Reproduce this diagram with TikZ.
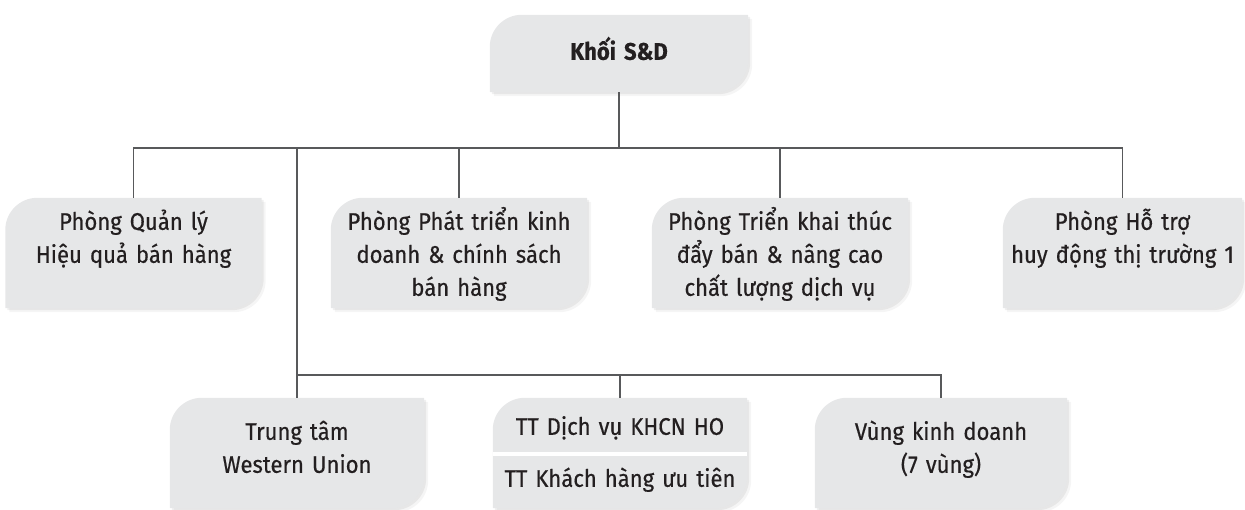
\documentclass[tikz,border=0pt]{standalone}
\usepackage{fontspec}
\setmainfont{Fira Sans}[FakeStretch=0.92,WordSpace=0.85,FakeBold=0.5]
\usepackage{tikz}
\usetikzlibrary{positioning, shadows, calc}
\definecolor{leafgray}{HTML}{E6E7E8}
\definecolor{wiregray}{HTML}{58595B}
\definecolor{inkblack}{HTML}{231F20}

\begin{document}
\begin{tikzpicture}
  [x=1pt,y=1pt,
   leafbox/.style={rectangle,inner sep=0pt,minimum width=256pt,minimum height=110pt},
   leaffill/.style={fill=leafgray,
     drop shadow={shadow xshift=4pt,shadow yshift=-4pt,opacity=0.08},
     drop shadow={shadow xshift=2pt,shadow yshift=-2pt,opacity=0.12}},
   boxtext/.style={text width=248pt,align=center,inner sep=0pt,text=inkblack,
     font=\fontsize{24}{33}\selectfont},
   wire/.style={draw=wiregray,line width=1.4pt}]
  \useasboundingbox (0,0) rectangle (1245,-510);
  % boxes
  \node (sd) at (619,-53.5) [leafbox,minimum width=258pt,minimum height=77pt] {};
  \node (qlhq) at (133.5,-253) [leafbox] {};
  \node (ptkd) at (459,-253) [leafbox] {};
  \node (tktd) at (780,-253) [leafbox] {};
  \node (htdt) at (1122.5,-253) [leafbox,minimum width=239pt] {};
  \node (wu) at (297,-453) [leafbox,minimum width=254pt] {};
  \node (tt) at (620,-453) [leafbox,minimum width=254pt] {};
  \node (vkd) at (941,-453) [leafbox,minimum width=252pt] {};
  \foreach \n in {sd,qlhq,ptkd,tktd,htdt,wu,tt,vkd}
    \fill [leaffill] (\n.south west) -- ([yshift=-32pt]\n.north west)
      arc [start angle=180,end angle=90,radius=32pt] -- (\n.north east)
      -- ([yshift=32pt]\n.south east) arc [start angle=0,end angle=-90,radius=32pt] -- cycle;
  \draw [white,line width=4pt] ([yshift=-56pt]tt.north west) -- ([yshift=-56pt]tt.north east);
  % texts
  \node (sdtext) [boxtext,anchor=base,font=\fontsize{24}{33}\selectfont\bfseries]
    at ([yshift=-45pt]sd.north) {Khối S\&D};
  \node (qlhqtext) [boxtext,anchor=base] at ([yshift=-32pt]qlhq.north) {Phòng Quản lý\\Hiệu quả bán hàng};
  \node (ptkdtext) [boxtext,anchor=base] at ([yshift=-32pt]ptkd.north) {Phòng Phát triển kinh\\doanh \& chính sách\\bán hàng};
  \node (tktdtext) [boxtext,anchor=base] at ([yshift=-32pt]tktd.north) {Phòng Triển khai thúc\\đẩy bán \& nâng cao\\chất lượng dịch vụ};
  \node (htdttext) [boxtext,anchor=base,text width=234pt] at ([yshift=-32pt]htdt.north) {Phòng Hỗ trợ\\huy động thị trường 1};
  \node (wutext) [boxtext,anchor=base] at ([yshift=-42pt]wu.north) {Trung tâm\\Western Union};
  \node (ttdv) [boxtext,anchor=base] at ([yshift=-37pt]tt.north) {TT Dịch vụ KHCN HO};
  \node (ttkh) [boxtext,anchor=base] at ([yshift=-89pt]tt.north) {TT Khách hàng ưu tiên};
  \node (vkdtext) [boxtext,anchor=base] at ([yshift=-42pt]vkd.north) {Vùng kinh doanh\\(7 vùng)};
  % connectors
  \coordinate (bus) at (619,-148);
  \coordinate (lowbus) at (297,-375);
  \foreach \n in {qlhq,ptkd,tktd,htdt,wu}
    \draw [wire] (sd.south) |- (bus) -| (\n.north);
  \foreach \n in {tt,vkd}
    \draw [wire] (lowbus) -| (\n.north);
\end{tikzpicture}
\end{document}
